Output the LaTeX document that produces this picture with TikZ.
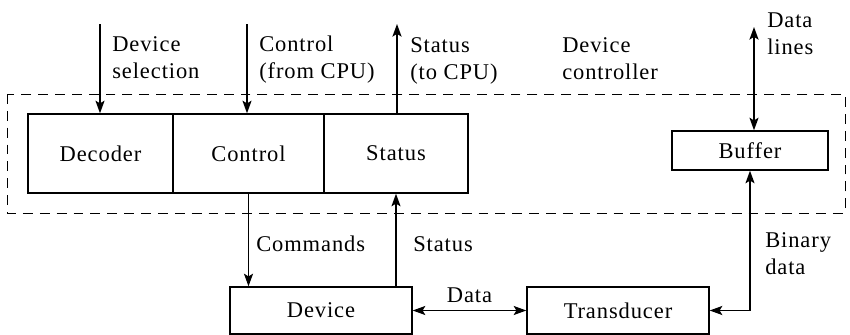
\documentclass[tikz,border=0pt]{standalone}
\usepackage{fontspec}
\setmainfont{Liberation Serif}[LetterSpace=4]
\usetikzlibrary{arrows.meta}

\begin{document}
\begin{tikzpicture}[x=0.025cm,y=-0.025cm,
  blk/.style={draw,line width=1pt,minimum height=1.975cm,inner sep=0pt},
  lbl/.style={anchor=north west,inner sep=0pt,align=left},
  sig/.style={-{Stealth[length=9pt,width=6.5pt,inset=2pt]},line width=0.9pt},
  bus/.style={{Stealth[length=9pt,width=6.5pt,inset=2pt]}-{Stealth[length=9pt,width=6.5pt,inset=2pt]},line width=0.9pt},
  font=\fontsize{16}{19.2}\selectfont,
]
  \useasboundingbox (0,0) rectangle (850,335);
  % device controller boundary
  \draw[dash pattern=on 7pt off 5pt,line width=0.7pt] (7,94) rectangle (845,213);

  \node[blk,minimum width=3.625cm] (dec) at (100.5,153.5) {Decoder};
  \node[blk,minimum width=3.775cm] (ctl) at (248.5,153.5) {Control};
  \node[blk,minimum width=3.6cm]   (sta) at (396,153.5)   {Status};
  \node[blk,minimum width=3.9cm,minimum height=0.975cm]  (buf) at (750,150.5) {Buffer};
  \node[blk,minimum width=4.55cm,minimum height=1.175cm] (dev) at (321,310.5) {Device};
  \node[blk,minimum width=4.55cm,minimum height=1.175cm] (trn) at (618,310.5) {Transducer};

  \coordinate (selin)  at (100,24);
  \coordinate (ctlin)  at (247,24);
  \coordinate (staout) at (397,24);
  \coordinate (datout) at (754,27);

  % CPU side
  \draw[sig] (selin) -- (selin |- dec.north);
  \draw[sig] (ctlin) -- (ctlin |- ctl.north);
  \draw[sig] (staout |- sta.north) -- (staout);
  \draw[bus] (datout |- buf.north) -- (datout);
  % device side
  \draw[sig] (ctl.south) -- (ctl.south |- dev.north);
  \draw[sig] (sta.south |- dev.north) -- (sta.south);
  \draw[bus] (dev.east) -- (trn.west);
  \draw[bus] (trn.east) -| (buf.south);

  \node[lbl] (sellbl) at (112,36) {Device\\selection};
  \node[lbl] (ctllbl) at (259,36) {Control\\(from CPU)};
  \node[lbl] (stalbl) at (410,37) {Status\\(to CPU)};
  \node[lbl] (dclbl)  at (562,37) {Device\\controller};
  \node[lbl] (dllbl)  at (767,12) {Data\\lines};
  \node[lbl] (cmdlbl) at (256,236) {Commands};
  \node[lbl] (stslbl) at (413,236) {Status};
  \node[lbl] (bdlbl)  at (765,232) {Binary\\data};
  \node[anchor=base,inner sep=0pt] (datlbl) at (469.5,302) {Data};
\end{tikzpicture}
\end{document}
